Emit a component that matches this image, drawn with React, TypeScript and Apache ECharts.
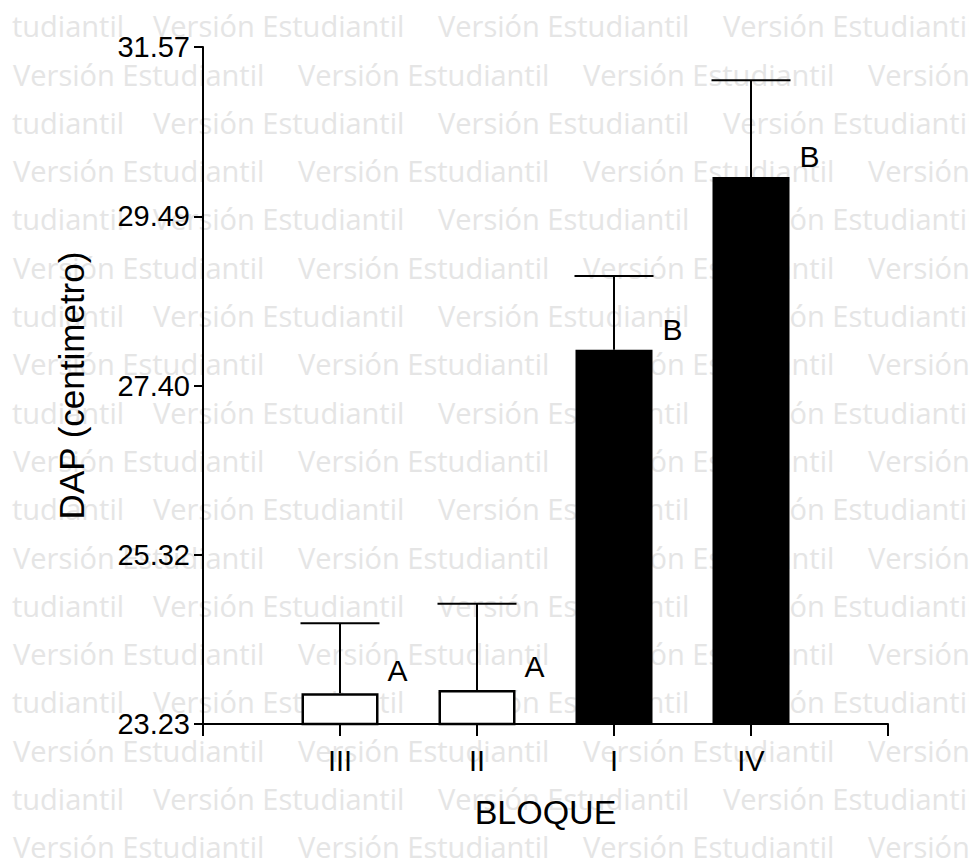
import React, { useEffect, useRef } from "react";
import * as echarts from "echarts";

// ---- data ----
const categories = ["", "III", "II", "I", "IV", ""];
const meanValues: (number | null)[] = [null, 23.61, 23.65, 27.84, 29.97, null];
const errorValues: (number | null)[] = [null, 0.86, 1.06, 0.91, 1.19, null];
const filled = [false, false, false, true, true, false];
const groupLetters = ["", "A", "A", "B", "B", ""];
const yMin = 23.23;
const yMax = 31.57;
const yTickLabels = ["23.23", "25.32", "27.40", "29.49", "31.57"];
const yTitle = "DAP (centimetro)";
const xTitle = "BLOQUE";
const watermarkText = "Versión Estudiantil";
const watermarkTail = "tudiantil";

const FONT = "'Liberation Sans', Arial, Helvetica, sans-serif";

export default function App() {
  const ref = useRef<HTMLDivElement>(null);
  useEffect(() => {
    if (!ref.current) return;
    const chart = echarts.init(ref.current, undefined, { renderer: "svg" });

    const n = yTickLabels.length;
    const yTickValues = yTickLabels.map((_, i) => yMin + ((yMax - yMin) * i) / (n - 1));
    const labelFor = (v: number) => {
      let best = 0;
      let bd = Infinity;
      yTickValues.forEach((t, i) => {
        const d = Math.abs(t - v);
        if (d < bd) { bd = d; best = i; }
      });
      return yTickLabels[best];
    };

    // watermark (decorative background text)
    const wm: any[] = [];
    for (let j = 0; j < 18; j++) {
      const baseline = 36.7 + 48.3 * j;
      const y = baseline - 11;
      const style = { fill: "#e5e5e5", font: "29px 'Open Sans', sans-serif", verticalAlign: "middle", align: "left" };
      if (j % 2 === 0) {
        wm.push({ type: "text", x: 12, y, z: -1, silent: true, style: { ...style, text: watermarkTail } });
        for (let k = 0; k < 3; k++) {
          wm.push({ type: "text", x: 153 + 285 * k, y, z: -1, silent: true, style: { ...style, text: watermarkText } });
        }
      } else {
        for (let k = 0; k < 4; k++) {
          wm.push({ type: "text", x: 13 + 285 * k, y, z: -1, silent: true, style: { ...style, text: watermarkText } });
        }
      }
    }

    const barData = categories.map((_, i) => {
      const v = meanValues[i];
      if (v == null) return "-";
      const isFilled = filled[i];
      return {
        value: v,
        itemStyle: isFilled
          ? { color: "#000", borderWidth: 0 }
          : { color: "#fff", borderColor: "#000", borderWidth: 2.5 },
        label: {
          show: true,
          formatter: groupLetters[i],
          position: isFilled ? [87, -5] : [86, -8],
          align: "left",
          verticalAlign: "bottom",
          fontSize: 30,
          fontFamily: FONT,
          color: "#000",
        },
      };
    });

    const errData = categories
      .map((_, i) => (meanValues[i] == null ? null : [i, meanValues[i], errorValues[i]]))
      .filter((d) => d !== null);

    chart.setOption({
      animation: false,
      backgroundColor: "#fff",
      graphic: { elements: wm },
      grid: { left: 203, right: 81, top: 47, bottom: 137, containLabel: false },
      xAxis: {
        type: "category",
        data: categories,
        boundaryGap: false,
        axisLine: { show: true, lineStyle: { color: "#000", width: 2 } },
        axisTick: { show: true, length: 12, interval: 0, lineStyle: { color: "#000", width: 2 } },
        axisLabel: {
          interval: 0,
          margin: 22,
          fontSize: 29,
          color: "#000",
          fontFamily: "'Liberation Sans Narrow', 'Liberation Sans', Arial, sans-serif",
        },
        splitLine: { show: false },
        name: xTitle,
        nameLocation: "middle",
        nameGap: 71,
        nameTextStyle: { fontSize: 34, color: "#000", fontFamily: FONT },
      },
      yAxis: {
        type: "value",
        min: yMin,
        max: yMax,
        axisLine: { show: true, lineStyle: { color: "#000", width: 2 } },
        axisTick: { show: true, length: 9, customValues: yTickValues, lineStyle: { color: "#000", width: 2 } },
        axisLabel: {
          customValues: yTickValues,
          formatter: (v: number) => labelFor(v),
          margin: 13,
          fontSize: 29,
          color: "#000",
          fontFamily: FONT,
        },
        splitLine: { show: false },
        name: yTitle,
        nameLocation: "middle",
        nameGap: 114,
        nameRotate: 90,
        nameTextStyle: { fontSize: 35, color: "#000", fontFamily: FONT },
      },
      series: [
        {
          type: "bar",
          data: barData,
          barWidth: 77,
        },
        {
          type: "custom",
          data: errData,
          encode: { x: 0, y: 1 },
          clip: false,
          renderItem: (params: any, api: any) => {
            const x = api.value(0);
            const m = api.value(1);
            const e = api.value(2);
            const p0 = api.coord([x, m]);
            const p1 = api.coord([x, m + e]);
            const half = 39.5;
            return {
              type: "group",
              children: [
                { type: "line", shape: { x1: p0[0], y1: p0[1], x2: p1[0], y2: p1[1] }, style: { stroke: "#000", lineWidth: 2 } },
                { type: "line", shape: { x1: p1[0] - half, y1: p1[1], x2: p1[0] + half, y2: p1[1] }, style: { stroke: "#000", lineWidth: 2 } },
              ],
            };
          },
        },
      ],
    });
    return () => chart.dispose();
  }, []);
  return <div ref={ref} style={{ position: "absolute", left: 0, top: 0, width: 969, height: 861 }} />;
}
